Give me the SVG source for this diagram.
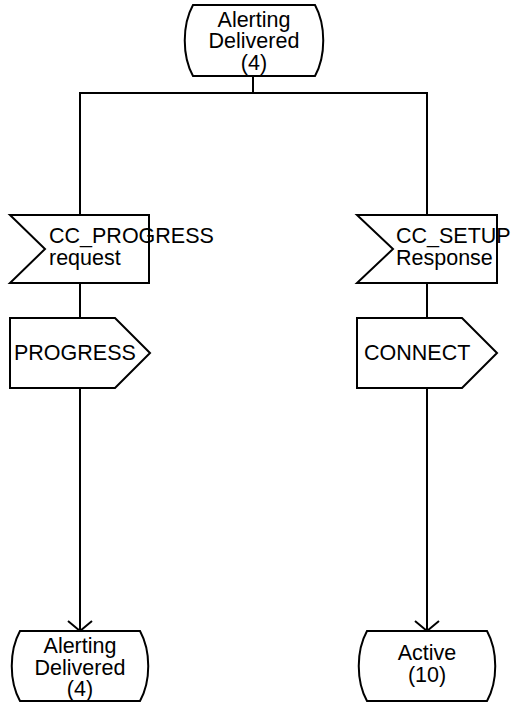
<svg xmlns="http://www.w3.org/2000/svg" width="515" height="704" viewBox="0 0 515 704">
<style>
.s{fill:#fff;stroke:#000;stroke-width:2}
.c{fill:none;stroke:#000;stroke-width:2}
text{font-family:"Liberation Sans",Arial,sans-serif;font-size:21.5px;fill:#000}
.m{text-anchor:middle}
</style>
<defs>
<marker id="arr" markerWidth="14" markerHeight="28" refX="11" refY="14" orient="auto" markerUnits="userSpaceOnUse">
<polyline points="1,2 11,14 1,26" fill="none" stroke="#000" stroke-width="2"/>
</marker>
</defs>
<g id="connectors">
<line class="c" x1="253" y1="76" x2="253" y2="93"/>
<line class="c" x1="79" y1="93" x2="428" y2="93"/>
<line class="c" x1="80" y1="93" x2="80" y2="215"/>
<line class="c" x1="427" y1="93" x2="427" y2="215"/>
<line class="c" x1="80" y1="283" x2="80" y2="318"/>
<line class="c" x1="427" y1="283" x2="427" y2="318"/>
<line class="c" x1="80" y1="388" x2="80" y2="631" marker-end="url(#arr)"/>
<line class="c" x1="427" y1="388" x2="427" y2="631" marker-end="url(#arr)"/>
</g>
<g id="state_top">
<path class="s" d="M193,5 L315,5 C326,25 326,56 315,76 L193,76 C182,56 182,25 193,5 Z"/>
<text class="m" x="254" y="27">Alerting</text>
<text class="m" x="254" y="48">Delivered</text>
<text class="m" x="254" y="70">(4)</text>
</g>
<g id="input_left">
<path class="s" d="M10,215 L149,215 L149,283 L10,283 L45,249 Z"/>
<text x="49" y="243">CC_PROGRESS</text>
<text x="49" y="265">request</text>
</g>
<g id="input_right">
<path class="s" d="M357,215 L497,215 L497,283 L357,283 L393,249 Z"/>
<text x="396" y="243">CC_SETUP</text>
<text x="396" y="265">Response</text>
</g>
<g id="output_left">
<path class="s" d="M10,318 L115,318 L150,353 L115,388 L10,388 Z"/>
<text x="14" y="360">PROGRESS</text>
</g>
<g id="output_right">
<path class="s" d="M357,318 L462,318 L497,353 L462,388 L357,388 Z"/>
<text x="364" y="360">CONNECT</text>
</g>
<g id="state_bottom_left">
<path class="s" d="M20,631 L140,631 C151,651 151,681 140,701 L20,701 C9,681 9,651 20,631 Z"/>
<text class="m" x="80" y="653">Alerting</text>
<text class="m" x="80" y="675">Delivered</text>
<text class="m" x="80" y="696">(4)</text>
</g>
<g id="state_bottom_right">
<path class="s" d="M367,631 L487,631 C498,651 498,681 487,701 L367,701 C356,681 356,651 367,631 Z"/>
<text class="m" x="427" y="660">Active</text>
<text class="m" x="427" y="682">(10)</text>
</g>
</svg>
